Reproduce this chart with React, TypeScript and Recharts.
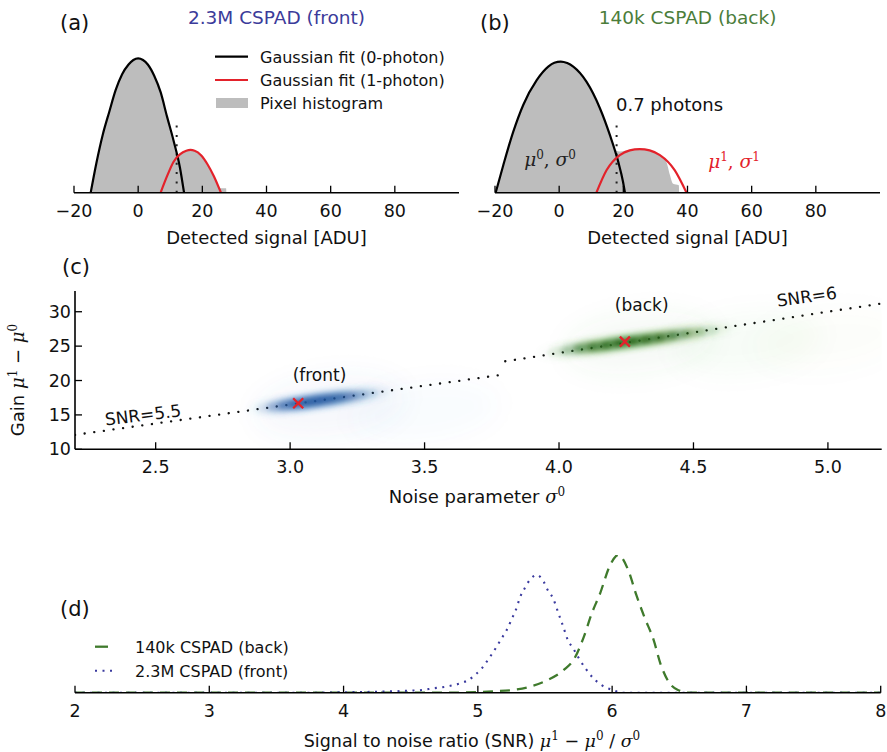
import React from 'react';
import { ComposedChart, Line, Area, Scatter, XAxis, YAxis, ReferenceLine } from 'recharts';

const FONT = '"DejaVu Sans", sans-serif';
const MATH = '"DejaVu Serif", serif';

// ---------- panel (a): 2.3M CSPAD (front) ----------
const frontZeroFit = [
  { adu: -14.8, val: 0 }, { adu: -13, val: 20 }, { adu: -11, val: 39 }, { adu: -9, val: 54 },
  { adu: -7, val: 68.5 }, { adu: -5, val: 79 }, { adu: -3, val: 85.5 }, { adu: -1.5, val: 88.5 },
  { adu: 0, val: 89.6 }, { adu: 1.5, val: 88.5 }, { adu: 3, val: 85.5 }, { adu: 5, val: 78 },
  { adu: 7, val: 67 }, { adu: 9, val: 50.7 }, { adu: 11, val: 35 }, { adu: 13, val: 17 }, { adu: 14.3, val: 0 },
];
const frontOneFit = [
  { adu: 7, val: 0 }, { adu: 9, val: 11 }, { adu: 11, val: 20.5 }, { adu: 13, val: 25.5 }, { adu: 15, val: 28 },
  { adu: 16.3, val: 28.5 }, { adu: 17.6, val: 28 }, { adu: 19.6, val: 25 }, { adu: 21.6, val: 19 },
  { adu: 23.6, val: 11 }, { adu: 25.8, val: 0 },
];
const frontHist = [
  { adu: -14.9, val: 0 }, { adu: -13, val: 20 }, { adu: -11, val: 39 }, { adu: -9, val: 54 },
  { adu: -7, val: 68.5 }, { adu: -5, val: 79 }, { adu: -3, val: 85.5 }, { adu: -1.5, val: 88.5 },
  { adu: 0, val: 89.6 }, { adu: 1.5, val: 88.5 }, { adu: 3, val: 85.5 }, { adu: 5, val: 78 },
  { adu: 7, val: 67 }, { adu: 9, val: 50.7 }, { adu: 11, val: 35 }, { adu: 12.6, val: 25 },
  { adu: 14, val: 26.8 }, { adu: 15, val: 28 }, { adu: 16.3, val: 28.5 }, { adu: 17.6, val: 28 },
  { adu: 19.6, val: 25 }, { adu: 21.6, val: 19 }, { adu: 23.6, val: 11 }, { adu: 25.4, val: 3 },
  { adu: 27.4, val: 3 }, { adu: 27.5, val: 0 },
];
const frontThreshold = 12;

// ---------- panel (b): 140k CSPAD (back) ----------
const backZeroFit = [
  { adu: -19.8, val: 0 }, { adu: -17.4, val: 18.5 }, { adu: -14.3, val: 40.7 }, { adu: -11.2, val: 58.5 },
  { adu: -7, val: 75 }, { adu: -3.4, val: 84 }, { adu: -1.5, val: 86.6 }, { adu: 0.5, val: 87.4 },
  { adu: 2.5, val: 86.4 }, { adu: 4.4, val: 84 }, { adu: 8.5, val: 74 }, { adu: 12.7, val: 56.3 },
  { adu: 15.8, val: 38.5 }, { adu: 18.4, val: 20.7 }, { adu: 19.9, val: 7.3 }, { adu: 20.5, val: 0 },
];
const backOneFit = [
  { adu: 11.6, val: 0 }, { adu: 14.8, val: 15.1 }, { adu: 18.9, val: 25.1 }, { adu: 22, val: 28.2 },
  { adu: 25.1, val: 29.1 }, { adu: 28.2, val: 28.2 }, { adu: 31.4, val: 25.1 }, { adu: 36, val: 15.1 },
  { adu: 39.7, val: 0 },
];
const backHist = [
  { adu: -19.9, val: 0 }, { adu: -17.4, val: 18.5 }, { adu: -14.3, val: 40.7 }, { adu: -11.2, val: 58.5 },
  { adu: -7, val: 75 }, { adu: -3.4, val: 84 }, { adu: -1.5, val: 86.6 }, { adu: 0.5, val: 87.4 },
  { adu: 2.5, val: 86.4 }, { adu: 4.4, val: 84 }, { adu: 8.5, val: 74 }, { adu: 12.7, val: 56.3 },
  { adu: 15.8, val: 38.5 }, { adu: 17.5, val: 28.5 }, { adu: 19, val: 27.5 }, { adu: 22, val: 28.4 },
  { adu: 25.1, val: 29.1 }, { adu: 28.2, val: 28.2 }, { adu: 31.4, val: 25.1 }, { adu: 33.5, val: 20 },
  { adu: 34.5, val: 12 }, { adu: 35.5, val: 6 }, { adu: 37.3, val: 5 }, { adu: 37.4, val: 0 },
];
const backThreshold = 17.9;
const thresholdTop = 49.6;
const aduTicks = [-20, 0, 20, 40, 60, 80];

// ---------- panel (c) ----------
const snrLow = [{ sigma: 2.2, gain: 12.1 }, { sigma: 3.8, gain: 20.9 }];
const snrHigh = [{ sigma: 3.8, gain: 22.8 }, { sigma: 5.2, gain: 31.2 }];
const frontCloud = [
  { sigma: 2.92, gain: 16.1, d: 0.15 }, { sigma: 2.96, gain: 16.3, d: 0.45 }, { sigma: 3.0, gain: 16.5, d: 0.75 },
  { sigma: 3.04, gain: 16.7, d: 0.95 }, { sigma: 3.08, gain: 16.95, d: 1.0 }, { sigma: 3.12, gain: 17.15, d: 0.95 },
  { sigma: 3.16, gain: 17.4, d: 0.85 }, { sigma: 3.2, gain: 17.6, d: 0.65 }, { sigma: 3.24, gain: 17.8, d: 0.4 },
  { sigma: 3.28, gain: 18.0, d: 0.2 }, { sigma: 3.32, gain: 18.25, d: 0.08 },
];
const backCloud = [
  { sigma: 4.0, gain: 24.2, d: 0.1 }, { sigma: 4.05, gain: 24.5, d: 0.35 }, { sigma: 4.1, gain: 24.8, d: 0.65 },
  { sigma: 4.15, gain: 25.0, d: 0.85 }, { sigma: 4.2, gain: 25.3, d: 0.95 }, { sigma: 4.25, gain: 25.6, d: 1.0 },
  { sigma: 4.3, gain: 25.85, d: 0.95 }, { sigma: 4.35, gain: 26.1, d: 0.85 }, { sigma: 4.4, gain: 26.4, d: 0.7 },
  { sigma: 4.45, gain: 26.7, d: 0.5 }, { sigma: 4.5, gain: 26.95, d: 0.3 }, { sigma: 4.55, gain: 27.2, d: 0.15 },
  { sigma: 4.6, gain: 27.5, d: 0.05 },
];
const frontHaze = [{ sigma: 3.15, gain: 16.3, d: 1 }, { sigma: 3.5, gain: 15.5, d: 0.5 }];
const backHaze = [{ sigma: 4.3, gain: 25.5, d: 1 }, { sigma: 4.7, gain: 25.5, d: 0.6 }, { sigma: 5.0, gain: 26, d: 0.4 }];
const frontPeak = [{ sigma: 3.03, gain: 16.7 }];
const backPeak = [{ sigma: 4.245, gain: 25.65 }];
const sigmaTicks = [2.5, 3.0, 3.5, 4.0, 4.5, 5.0];
const gainTicks = [10, 15, 20, 25, 30];

// ---------- panel (d) ----------
const snrBack = [
  { snr: 2, val: 0 }, { snr: 4.8, val: 0 }, { snr: 5.11, val: 0.01 }, { snr: 5.26, val: 0.02 },
  { snr: 5.39, val: 0.044 }, { snr: 5.52, val: 0.092 }, { snr: 5.64, val: 0.165 }, { snr: 5.72, val: 0.25 },
  { snr: 5.785, val: 0.395 }, { snr: 5.85, val: 0.58 }, { snr: 5.91, val: 0.72 }, { snr: 5.98, val: 0.915 },
  { snr: 6.045, val: 1.0 }, { snr: 6.12, val: 0.89 }, { snr: 6.18, val: 0.71 }, { snr: 6.24, val: 0.55 },
  { snr: 6.31, val: 0.38 }, { snr: 6.36, val: 0.21 }, { snr: 6.42, val: 0.08 }, { snr: 6.49, val: 0.02 },
  { snr: 6.58, val: 0 }, { snr: 8, val: 0 },
];
const snrFront = [
  { snr: 2, val: 0 }, { snr: 3.8, val: 0 }, { snr: 4.0, val: 0.003 }, { snr: 4.3, val: 0.008 },
  { snr: 4.5, val: 0.015 }, { snr: 4.59, val: 0.02 }, { snr: 4.67, val: 0.032 }, { snr: 4.73, val: 0.039 },
  { snr: 4.79, val: 0.049 }, { snr: 4.87, val: 0.068 }, { snr: 4.93, val: 0.092 }, { snr: 4.98, val: 0.129 },
  { snr: 5.03, val: 0.177 }, { snr: 5.066, val: 0.225 }, { snr: 5.1, val: 0.274 }, { snr: 5.14, val: 0.334 },
  { snr: 5.177, val: 0.395 }, { snr: 5.215, val: 0.455 }, { snr: 5.25, val: 0.53 }, { snr: 5.29, val: 0.62 },
  { snr: 5.313, val: 0.69 }, { snr: 5.35, val: 0.76 }, { snr: 5.388, val: 0.82 }, { snr: 5.438, val: 0.855 },
  { snr: 5.49, val: 0.806 }, { snr: 5.52, val: 0.746 }, { snr: 5.56, val: 0.686 }, { snr: 5.6, val: 0.577 },
  { snr: 5.636, val: 0.479 }, { snr: 5.67, val: 0.383 }, { snr: 5.71, val: 0.322 }, { snr: 5.76, val: 0.237 },
  { snr: 5.81, val: 0.165 }, { snr: 5.86, val: 0.105 }, { snr: 5.92, val: 0.056 }, { snr: 6.0, val: 0.02 },
  { snr: 6.08, val: 0 }, { snr: 8, val: 0 },
];
const snrTicks = [2, 3, 4, 5, 6, 7, 8];

// ---------- helpers ----------
const minus = (v: number, digits = 0) => {
  const s = Math.abs(v).toFixed(digits);
  return v < 0 ? '\u2212' + s : s;
};

const makeBottomTick = (digits: number) => (props: any) => {
  const { x, y, payload } = props;
  return (
    <g>
      <line x1={x} x2={x} y1={y - 7} y2={y} stroke="#000" strokeWidth={1.3} />
      <text x={x} y={y + 24} textAnchor="middle" fontSize={17.5} fontFamily={FONT} fill="#111">
        {minus(payload.value, digits)}
      </text>
    </g>
  );
};

const LeftTick = (props: any) => {
  const { x, y, payload } = props;
  return (
    <g>
      <line x1={x} x2={x + 7} y1={y} y2={y} stroke="#000" strokeWidth={1.3} />
      <text x={x - 4} y={y + 6} textAnchor="end" fontSize={17.5} fontFamily={FONT} fill="#111">
        {payload.value}
      </text>
    </g>
  );
};

const makeCloud = (core: string, glow: string, k: number) => (props: any) => {
  const { cx, cy, payload } = props;
  const d = payload.d;
  return (
    <g transform={`rotate(-7 ${cx} ${cy})`} filter="url(#blobBlur)">
      <ellipse cx={cx} cy={cy} rx={22} ry={9} fill={glow} fillOpacity={d * 0.22} />
      <ellipse cx={cx} cy={cy} rx={13} ry={4.5} fill={core} fillOpacity={d * k} />
    </g>
  );
};

const makeHaze = (color: string) => (props: any) => {
  const { cx, cy, payload } = props;
  return (
    <ellipse cx={cx} cy={cy} rx={75} ry={30} fill={color} fillOpacity={payload.d * 0.05}
      transform={`rotate(-7 ${cx} ${cy})`} filter="url(#hazeBlur)" />
  );
};

const Cross = (props: any) => {
  const { cx, cy } = props;
  const s = 5;
  return (
    <g stroke="#e3222b" strokeWidth={2.3}>
      <line x1={cx - s} y1={cy - s} x2={cx + s} y2={cy + s} />
      <line x1={cx - s} y1={cy + s} x2={cx + s} y2={cy - s} />
    </g>
  );
};

const abs: React.CSSProperties = { position: 'absolute', left: 0, top: 0 };
const W = 887;
const H = 752;
const AX = 30; // x-axis band height
const AY = 40; // y-axis band width

function HistPanel({ zero, one, hist, cut, left, right }: any) {
  return (
    <div style={abs}>
      <ComposedChart width={W} height={H} margin={{ top: 42.7, bottom: 752 - 192.7 - AX, left, right }}>
        <XAxis dataKey="adu" type="number" domain={[-20, 100]} ticks={aduTicks} interval={0}
          allowDataOverflow height={AX} tickSize={0} tickMargin={0} tickLine={false}
          axisLine={{ stroke: '#000', strokeWidth: 1.6 }} tick={makeBottomTick(0)} />
        <YAxis type="number" domain={[0, 100]} hide width={0} allowDataOverflow />
        <Area data={hist} dataKey="val" type="monotone" stroke="none" fill="#bdbdbd" fillOpacity={1}
          isAnimationActive={false} />
        <ReferenceLine segment={[{ x: cut, y: 0 }, { x: cut, y: thresholdTop }]} stroke="#222"
          strokeWidth={2} strokeDasharray="2 7.3" ifOverflow="visible" />
        <Line data={zero} dataKey="val" type="monotone" stroke="#000" strokeWidth={2.2} dot={false}
          isAnimationActive={false} />
        <Line data={one} dataKey="val" type="monotone" stroke="#e3222b" strokeWidth={2.2} dot={false}
          isAnimationActive={false} />
      </ComposedChart>
    </div>
  );
}

function CloudPanel() {
  return (
    <div style={abs}>
      <ComposedChart width={W} height={H} margin={{ top: 291.1, bottom: 752 - 449.3 - AX, left: 75 - AY, right: 5.3 }}>
        <XAxis dataKey="sigma" type="number" domain={[2.2, 5.2]} ticks={sigmaTicks} interval={0}
          allowDataOverflow height={AX} tickSize={0} tickMargin={0} tickLine={false}
          axisLine={{ stroke: '#000', strokeWidth: 1.6 }} tick={makeBottomTick(1)} />
        <YAxis dataKey="gain" type="number" domain={[10, 33]} ticks={gainTicks} interval={0}
          allowDataOverflow width={AY} tickSize={0} tickMargin={0} tickLine={false}
          axisLine={{ stroke: '#000', strokeWidth: 1.6 }} tick={LeftTick} />
        <Scatter data={frontHaze} dataKey="gain" shape={makeHaze('#3d7cc4')} isAnimationActive={false} />
        <Scatter data={backHaze} dataKey="gain" shape={makeHaze('#4f9a3a')} isAnimationActive={false} />
        <Scatter data={frontCloud} dataKey="gain" shape={makeCloud('#0b3a88', '#4a86c8', 0.55)}
          isAnimationActive={false} />
        <Scatter data={backCloud} dataKey="gain" shape={makeCloud('#124f0b', '#58a640', 0.65)}
          isAnimationActive={false} />
        <Line data={snrLow} dataKey="gain" type="linear" stroke="#111" strokeWidth={2.3}
          strokeDasharray="0.1 9.6" strokeLinecap="round" dot={false} isAnimationActive={false} />
        <Line data={snrHigh} dataKey="gain" type="linear" stroke="#111" strokeWidth={2.3}
          strokeDasharray="0.1 9.6" strokeLinecap="round" dot={false} isAnimationActive={false} />
        <Scatter data={frontPeak} dataKey="gain" shape={Cross} isAnimationActive={false} />
        <Scatter data={backPeak} dataKey="gain" shape={Cross} isAnimationActive={false} />
      </ComposedChart>
    </div>
  );
}

function SnrPanel() {
  return (
    <div style={abs}>
      <ComposedChart width={W} height={H} margin={{ top: 555, bottom: 752 - 692.7 - AX, left: 75, right: 6.3 }}>
        <XAxis dataKey="snr" type="number" domain={[2, 8]} ticks={snrTicks} interval={0}
          allowDataOverflow height={AX} tickSize={0} tickMargin={0} tickLine={false}
          axisLine={{ stroke: '#000', strokeWidth: 1.6 }} tick={makeBottomTick(0)} />
        <YAxis type="number" domain={[0, 1]} hide width={0} allowDataOverflow />
        <Line data={snrBack} dataKey="val" type="monotone" stroke="#3f7a2c" strokeWidth={2.3}
          strokeDasharray="10 7" dot={false} isAnimationActive={false} />
        <Line data={snrFront} dataKey="val" type="monotone" stroke="#3a3a9e" strokeWidth={2.1}
          strokeDasharray="2 5.5" dot={false} isAnimationActive={false} />
      </ComposedChart>
    </div>
  );
}

function Overlay() {
  const t = { fontFamily: FONT, fill: '#111' } as any;
  const m = { fontFamily: MATH, fontStyle: 'italic' } as any;
  return (
    <svg width={W} height={H} style={{ ...abs, pointerEvents: 'none' }}>
      <defs>
        <filter id="blobBlur" x="-50%" y="-100%" width="200%" height="300%">
          <feGaussianBlur stdDeviation="2.5" />
        </filter>
        <filter id="hazeBlur" x="-50%" y="-100%" width="200%" height="300%">
          <feGaussianBlur stdDeviation="12" />
        </filter>
      </defs>
      {/* panel (a) */}
      <text x={60} y={30} fontSize={21} {...t}>(a)</text>
      <text x={276.5} y={24} fontSize={18.5} textAnchor="middle" fontFamily={FONT} fill="#3b3b9a">2.3M CSPAD (front)</text>
      <line x1={215} x2={248} y1={56.7} y2={56.7} stroke="#000" strokeWidth={2.2} />
      <text x={260} y={62.5} fontSize={16} {...t}>Gaussian fit (0-photon)</text>
      <line x1={215} x2={248} y1={80} y2={80} stroke="#e3222b" strokeWidth={2.2} />
      <text x={260} y={86} fontSize={16} {...t}>Gaussian fit (1-photon)</text>
      <rect x={216} y={98} width={32} height={10} fill="#bdbdbd" />
      <text x={260} y={109} fontSize={16} {...t}>Pixel histogram</text>
      <text x={266.5} y={244} fontSize={18} textAnchor="middle" {...t}>Detected signal [ADU]</text>

      {/* panel (b) */}
      <text x={480} y={30} fontSize={21} {...t}>(b)</text>
      <text x={687.5} y={24} fontSize={18.5} textAnchor="middle" fontFamily={FONT} fill="#4b7d3a">140k CSPAD (back)</text>
      <text x={616} y={111} fontSize={18} {...t}>0.7 photons</text>
      <text x={550} y={166} fontSize={18.5} textAnchor="middle" fill="#222">
        <tspan {...m}>μ</tspan><tspan dy={-7} fontSize={12} fontFamily={MATH}>0</tspan>
        <tspan dy={7} fontFamily={MATH}>, </tspan><tspan {...m}>σ</tspan>
        <tspan dy={-7} fontSize={12} fontFamily={MATH}>0</tspan>
      </text>
      <text x={734} y={168} fontSize={18.5} textAnchor="middle" fill="#e3222b">
        <tspan {...m}>μ</tspan><tspan dy={-7} fontSize={12} fontFamily={MATH}>1</tspan>
        <tspan dy={7} fontFamily={MATH}>, </tspan><tspan {...m}>σ</tspan>
        <tspan dy={-7} fontSize={12} fontFamily={MATH}>1</tspan>
      </text>
      <text x={687.5} y={244} fontSize={18} textAnchor="middle" {...t}>Detected signal [ADU]</text>

      {/* panel (c) */}
      <text x={62} y={274} fontSize={21} {...t}>(c)</text>
      <text x={143} y={421} fontSize={17} textAnchor="middle" transform="rotate(-7 143 415)" {...t}>SNR=5.5</text>
      <text x={319.5} y={381} fontSize={17} textAnchor="middle" {...t}>(front)</text>
      <text x={641.7} y={311} fontSize={17} textAnchor="middle" {...t}>(back)</text>
      <text x={806.7} y={302.7} fontSize={17} textAnchor="middle" transform="rotate(-8 806.7 296.7)" {...t}>SNR=6</text>
      <text x={24} y={380} fontSize={18} textAnchor="middle" transform="rotate(-90 24 380)" {...t}>
        Gain <tspan {...m}>μ</tspan><tspan dy={-7} fontSize={12} fontFamily={MATH}>1</tspan>
        <tspan dy={7}> − </tspan><tspan {...m}>μ</tspan><tspan dy={-7} fontSize={12} fontFamily={MATH}>0</tspan>
      </text>
      <text x={477} y={503} fontSize={18} textAnchor="middle" {...t}>
        Noise parameter <tspan {...m}>σ</tspan><tspan dy={-7} fontSize={12} fontFamily={MATH}>0</tspan>
      </text>

      {/* panel (d) */}
      <text x={60} y={616} fontSize={21} {...t}>(d)</text>
      <line x1={95} x2={108} y1={646.7} y2={646.7} stroke="#3f7a2c" strokeWidth={2.3} />
      <text x={135} y={652.5} fontSize={16} {...t}>140k CSPAD (back)</text>
      <line x1={95} x2={117} y1={670.7} y2={670.7} stroke="#3a3a9e" strokeWidth={2.1} strokeDasharray="2 5.5" />
      <text x={135} y={676.5} fontSize={16} {...t}>2.3M CSPAD (front)</text>
      <text x={472} y={747} fontSize={17.5} textAnchor="middle" {...t}>
        Signal to noise ratio (SNR) <tspan {...m}>μ</tspan><tspan dy={-7} fontSize={12} fontFamily={MATH}>1</tspan>
        <tspan dy={7}> − </tspan><tspan {...m}>μ</tspan><tspan dy={-7} fontSize={12} fontFamily={MATH}>0</tspan>
        <tspan dy={7}> / </tspan><tspan {...m}>σ</tspan><tspan dy={-7} fontSize={12} fontFamily={MATH}>0</tspan>
      </text>
    </svg>
  );
}

export default function App() {
  return (
    <div style={{ position: 'absolute', left: 0, top: 0, width: W, height: H, background: '#fff' }}>
      <HistPanel zero={frontZeroFit} one={frontOneFit} hist={frontHist} cut={frontThreshold} left={74} right={428} />
      <HistPanel zero={backZeroFit} one={backOneFit} hist={backHist} cut={backThreshold} left={495} right={7} />
      <CloudPanel />
      <SnrPanel />
      <Overlay />
    </div>
  );
}
